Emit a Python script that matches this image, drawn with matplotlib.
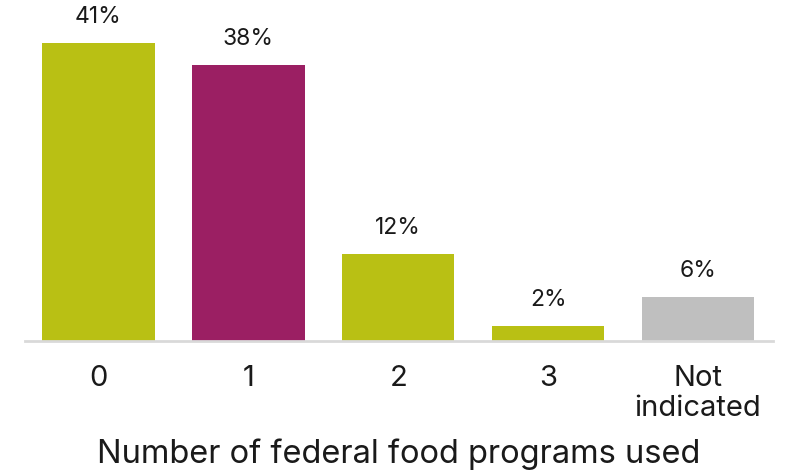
import matplotlib.pyplot as plt

plt.rcParams['font.family'] = ['Inter', 'DejaVu Sans']

# share of respondents by number of federal food programs used
categories = ['0', '1', '2', '3', 'Not\nindicated']
values = [41, 38, 12, 2, 6]
colors = ['#b9c014', '#9b1f63', '#b9c014', '#b9c014', '#bfbfbf']

fig = plt.figure(figsize=(7.87, 4.72), dpi=100)
ax = fig.add_axes([25 / 787, 131 / 472, 748 / 787, 327 / 472])

x = range(len(categories))
bars = ax.bar(x, values, width=0.75, color=colors)

for b, v in zip(bars, values):
    ax.text(b.get_x() + b.get_width() / 2, v + 2.1, f'{v}%',
            ha='center', va='bottom', fontsize=16.5, color='#1a1a1a')

ax.set_xlim(-0.49, 4.5)
ax.set_ylim(0, 45)
ax.set_xticks(list(x))
ax.set_xticklabels(categories, fontsize=21, color='#1a1a1a', linespacing=1.15)
ax.tick_params(axis='x', length=0, pad=17)
ax.set_yticks([])

for s in ['top', 'right', 'left']:
    ax.spines[s].set_visible(False)
ax.spines['bottom'].set_color('#d9d9d9')
ax.spines['bottom'].set_linewidth(2)

fig.text(399 / 787, 1 - 463 / 472, 'Number of federal food programs used',
         ha='center', va='baseline', fontsize=23.5, color='#1a1a1a')

fig.savefig('out.png', dpi=100)
